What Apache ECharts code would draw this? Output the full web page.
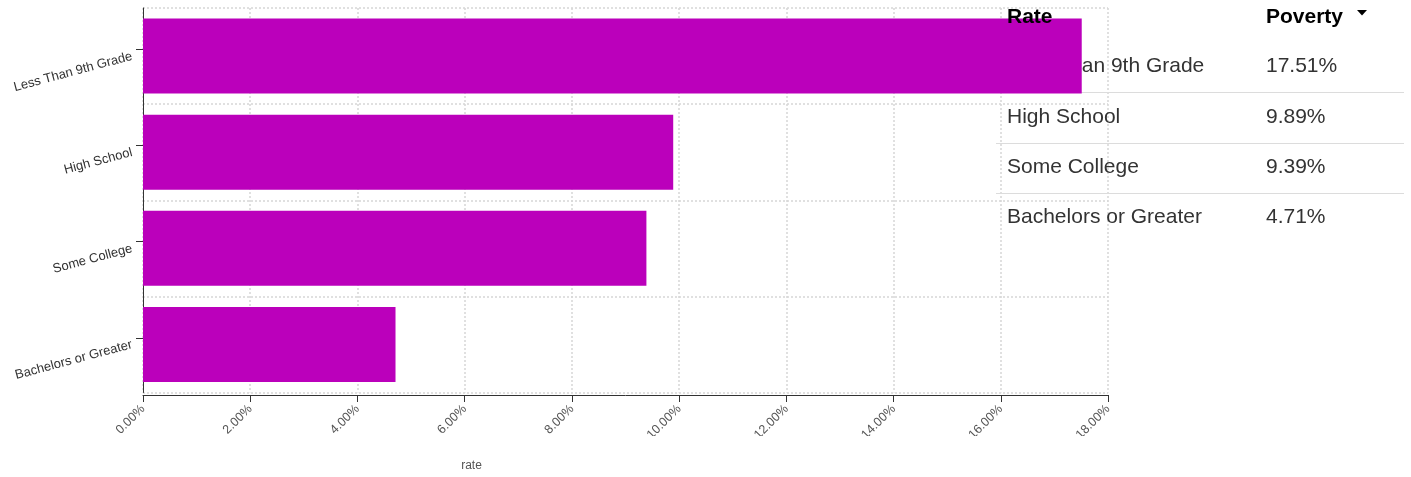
<!DOCTYPE html>
<html><head><meta charset="utf-8">
<script src="https://cdn.jsdelivr.net/npm/echarts@6/dist/echarts.min.js"></script>
<style>html,body{margin:0;padding:0;background:#fff}#c{width:1411px;height:477px}</style>
</head><body><div id="c"></div>
<script>
const categories = ['Less Than 9th Grade', 'High School', 'Some College', 'Bachelors or Greater'];
const rates = [17.51, 9.89, 9.39, 4.71];
const xAxisName = 'rate';
const tableHeaders = ['Rate', 'Poverty'];
const fmtPct = v => v.toFixed(2) + '%';

const FONT = '"Liberation Sans", Arial, Helvetica, sans-serif';
const chart = echarts.init(document.getElementById('c'), null, {renderer: 'canvas'});

// table overlay (text drawn by echarts graphic)
const graphics = [];
const rowY = [66, 117, 167.5, 217.5];
const sepY = [92.5, 143.5, 193.5];
categories.forEach((c, i) => {
  graphics.push({type: 'text', x: 1007, y: rowY[i], z: 1,
    style: {text: c, font: '21px ' + FONT, fill: '#333', verticalAlign: 'middle'}});
  graphics.push({type: 'text', x: 1266, y: rowY[i], z: 1,
    style: {text: fmtPct(rates[i]), font: '21px ' + FONT, fill: '#333', verticalAlign: 'middle'}});
});
sepY.forEach(y => graphics.push({type: 'line', z: 1,
  shape: {x1: 996, y1: y, x2: 1404, y2: y}, style: {stroke: '#dcdcdc', lineWidth: 1}}));
graphics.push({type: 'text', x: 1007, y: 17, z: 10,
  style: {text: tableHeaders[0], font: 'bold 21px ' + FONT, fill: '#000', verticalAlign: 'middle'}});
graphics.push({type: 'text', x: 1266, y: 17, z: 10,
  style: {text: tableHeaders[1], font: 'bold 21px ' + FONT, fill: '#000', verticalAlign: 'middle'}});
graphics.push({type: 'polygon', z: 10,
  shape: {points: [[1357, 10], [1367, 10], [1362, 15.5]]}, style: {fill: '#000'}});
// clip of the rotated tick labels as in the reference
graphics.push({type: 'rect', z: 100, shape: {x: 100, y: 436, width: 1020, height: 16}, style: {fill: '#fff'}});

chart.setOption({
  animation: false,
  backgroundColor: '#fff',
  textStyle: {fontFamily: FONT},
  grid: [
    {left: 143, right: 303, top: 8, height: 385.5, containLabel: false},
    {left: 143, right: 303, top: 0.8, height: 385.5, containLabel: false}
  ],
  xAxis: [{
    type: 'value', min: 0, max: 18, interval: 2, offset: 2.5,
    name: xAxisName, nameLocation: 'middle', nameGap: 65,
    nameTextStyle: {fontSize: 12, color: '#555', padding: [0, 308, 0, 0], fontFamily: FONT},
    axisLine: {show: true, lineStyle: {color: '#333', width: 1}},
    axisTick: {show: true, length: 7, lineStyle: {color: '#333'}},
    axisLabel: {rotate: 45, fontSize: 12.5, color: '#555', margin: 12, formatter: v => fmtPct(v), fontFamily: FONT},
    splitLine: {show: true, lineStyle: {color: '#d6d6d6', type: [2, 2], width: 1.5}}
  }, {
    gridIndex: 1, type: 'value', min: 0, max: 18, show: false
  }],
  yAxis: [{
    type: 'category', data: categories, inverse: true,
    axisLine: {show: true, lineStyle: {color: '#333', width: 1}},
    axisTick: {show: false},
    axisLabel: {rotate: 15, fontSize: 13, color: '#333', margin: 11, fontFamily: FONT},
    splitLine: {show: true, lineStyle: {color: '#d6d6d6', type: [2, 2], width: 1.5}}
  }, {
    gridIndex: 1, type: 'category', data: categories, inverse: true,
    axisLine: {show: false},
    axisTick: {show: true, alignWithLabel: true, length: 7, lineStyle: {color: '#333'}},
    axisLabel: {show: false},
    splitLine: {show: false}
  }],
  series: [{
    type: 'bar', data: rates, barCategoryGap: '22%', z: 2,
    itemStyle: {color: '#bb00bb'}
  }],
  graphic: graphics
});
</script></body></html>
